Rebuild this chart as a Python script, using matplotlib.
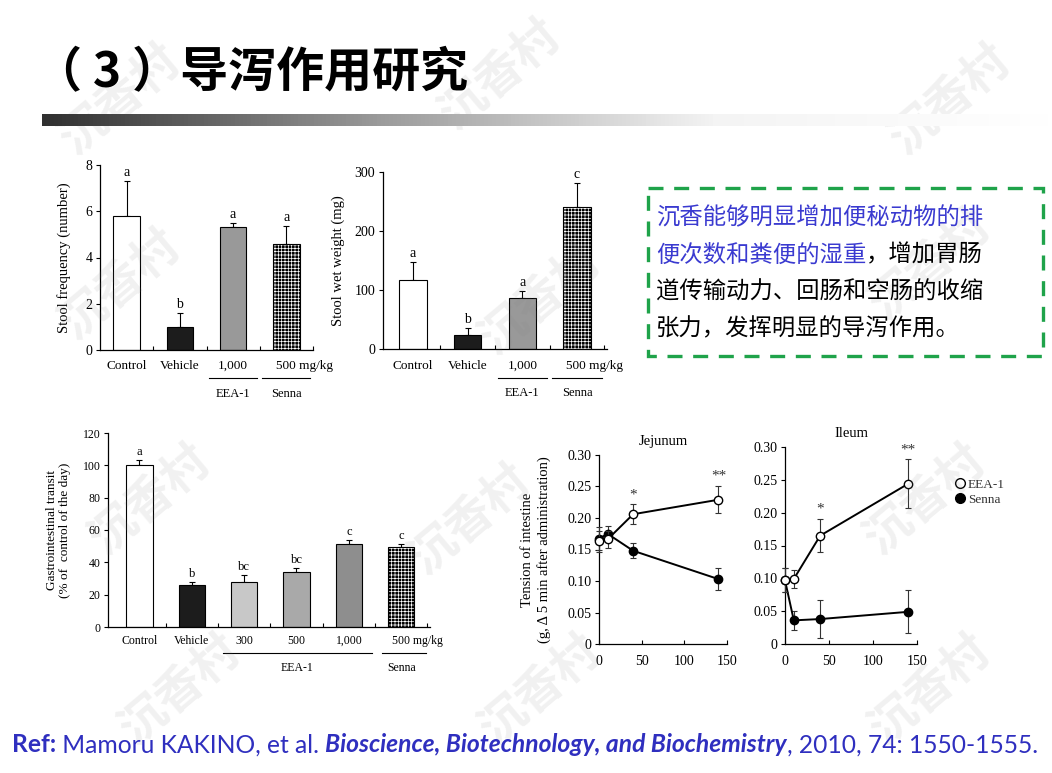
import numpy as np
import matplotlib
matplotlib.use("Agg")
import matplotlib.pyplot as plt
from matplotlib.lines import Line2D
from matplotlib.patches import Rectangle
from matplotlib.colors import LinearSegmentedColormap

W, H = 1052, 773
SERIF = "Liberation Serif"
CJK = ["Noto Sans CJK SC", "DejaVu Sans"]

# stool frequency / wet weight (top charts)
top_labels = ["Control", "Vehicle", "1,000", "500"]
freq_values = [5.8, 1.0, 5.3, 4.6]
freq_err = [1.5, 0.6, 0.2, 0.75]
freq_letters = ["a", "b", "a", "a"]
weight_values = [117, 23, 86, 241]
weight_err = [31, 13, 13, 40]
weight_letters = ["a", "b", "a", "c"]

# gastrointestinal transit (bottom left)
transit_labels = ["Control", "Vehicle", "300", "500", "1,000", "500"]
transit_values = [100, 26, 28, 34, 51.5, 49.5]
transit_err = [3, 2, 4, 2.5, 2.5, 2]
transit_letters = ["a", "b", "bc", "bc", "c", "c"]

# intestine tension (bottom right)
time_min = [0, 10, 40, 140]
jej_eea = [0.163, 0.166, 0.206, 0.229]
jej_eea_err = [0.017, 0.014, 0.016, 0.021]
jej_senna = [0.167, 0.175, 0.148, 0.103]
jej_senna_err = [0.018, 0.013, 0.012, 0.018]
ile_eea = [0.097, 0.099, 0.165, 0.244]
ile_eea_err = [0.018, 0.014, 0.025, 0.037]
ile_senna = [0.097, 0.036, 0.038, 0.049]
ile_senna_err = [0.018, 0.015, 0.029, 0.033]

plt.rcParams["hatch.linewidth"] = 0.5

fig = plt.figure(figsize=(W / 100, H / 100), dpi=100)
fig.patch.set_facecolor("white")


def px_axes(x0, y0, x1, y1, **kw):
    return fig.add_axes([x0 / W, 1 - y1 / H, (x1 - x0) / W, (y1 - y0) / H], **kw)


def style_axes(ax, fs):
    ax.set_facecolor("none")
    for s in ["top", "right"]:
        ax.spines[s].set_visible(False)
    for s in ["left", "bottom"]:
        ax.spines[s].set_linewidth(0.9)
    ax.tick_params(labelsize=fs, width=0.8, length=3, pad=2.5)
    for lab in ax.get_yticklabels() + ax.get_xticklabels():
        lab.set_family(SERIF)


def bar_panel(ax, values, err, letters, colors, fs):
    x = np.arange(len(values))
    for i, (v, c) in enumerate(zip(values, colors)):
        if c == "grid":
            ax.bar(i, v, width=0.5, color="black", edgecolor="white",
                   hatch="+++++", linewidth=0, zorder=2)
            ax.bar(i, v, width=0.5, fill=False, edgecolor="black",
                   linewidth=0.8, zorder=3)
        else:
            ax.bar(i, v, width=0.5, color=c, edgecolor="black",
                   linewidth=0.8, zorder=2)
    ax.errorbar(x, values, yerr=[[0] * len(err), err], fmt="none",
                ecolor="black", elinewidth=0.8, capsize=2.5, capthick=0.8, zorder=1)
    for i, (v, e, l) in enumerate(zip(values, err, letters)):
        ax.annotate(l, (i, v + e), xytext=(0, 1.5), textcoords="offset points",
                    ha="center", va="bottom", family=SERIF, fontsize=fs + 0.5)
    ax.set_xticks(x + 0.5)
    ax.set_xticklabels([])
    ax.tick_params(axis="x", length=3, direction="in")


# ---------- top-left: stool frequency
ax1 = px_axes(100, 165, 313, 350)
bar_panel(ax1, freq_values, freq_err, freq_letters,
          ["white", "#1c1c1c", "#999999", "grid"], 9.5)
ax1.set_xlim(-0.5, 3.5)
ax1.set_ylim(0, 8)
ax1.set_yticks([0, 2, 4, 6, 8])
style_axes(ax1, 10)
ax1.set_ylabel("Stool frequency (number)", family=SERIF, fontsize=10.5, labelpad=10)

# ---------- top-middle: stool wet weight
ax2 = px_axes(383, 172, 607, 349)
bar_panel(ax2, weight_values, weight_err, weight_letters,
          ["white", "#1c1c1c", "#999999", "grid"], 9.5)
ax2.set_xlim(-0.55, 3.55)
ax2.set_ylim(0, 300)
ax2.set_yticks([0, 100, 200, 300])
style_axes(ax2, 10)
ax2.set_ylabel("Stool wet weight (mg)", family=SERIF, fontsize=10.5, labelpad=7)

for ax, lab_y, line_y, grp_y in [(ax1, -0.086, -0.151, -0.24), (ax2, -0.096, -0.164, -0.25)]:
    tr = ax.get_xaxis_transform()
    for i, s in enumerate(top_labels[:3]):
        ax.text(i, lab_y, s, transform=tr, ha="center", va="center",
                family=SERIF, fontsize=9.5)
    ax.text(3 - 0.2, lab_y, "500 mg/kg", transform=tr, ha="left", va="center",
            family=SERIF, fontsize=9.5)
    for i, g in [(2, "EEA-1"), (3, "Senna")]:
        ax.plot([i - 0.45, i + 0.45], [line_y, line_y], transform=tr,
                color="black", lw=0.8, clip_on=False)
        ax.text(i, grp_y, g, transform=tr, ha="center", va="center",
                family=SERIF, fontsize=9)

# ---------- bottom-left: gastrointestinal transit
ax3 = px_axes(108, 433, 430, 627)
bar_panel(ax3, transit_values, transit_err, transit_letters,
          ["white", "#1c1c1c", "#c8c8c8", "#a9a9a9", "#8e8e8e", "grid"], 8.5)
ax3.set_xlim(-0.6, 5.55)
ax3.set_ylim(0, 120)
ax3.set_yticks(range(0, 121, 20))
style_axes(ax3, 8.5)
ax3.set_ylabel("Gastrointestinal transit\n(% of  control of the day)",
               family=SERIF, fontsize=9.5, labelpad=8)
tr3 = ax3.get_xaxis_transform()
for i, s in enumerate(transit_labels[:5]):
    ax3.text(i, -0.072, s, transform=tr3, ha="center", va="center",
             family=SERIF, fontsize=8.5)
ax3.text(5 - 0.17, -0.072, "500 mg/kg", transform=tr3, ha="left", va="center",
         family=SERIF, fontsize=8.5)
ax3.plot([1.59, 4.45], [-0.134, -0.134], transform=tr3, color="black", lw=0.8, clip_on=False)
ax3.plot([4.64, 5.48], [-0.134, -0.134], transform=tr3, color="black", lw=0.8, clip_on=False)
ax3.text(3, -0.21, "EEA-1", transform=tr3, ha="center", va="center", family=SERIF, fontsize=8.5)
ax3.text(5, -0.21, "Senna", transform=tr3, ha="center", va="center", family=SERIF, fontsize=8.5)


# ---------- bottom-right: tension line charts
def line_panel(ax, eea, eea_err, senna, senna_err, title, stars):
    ax.errorbar(time_min, senna, yerr=senna_err, color="black", lw=1.4,
                marker="o", ms=6, mfc="black", mec="black", ecolor="#333333",
                elinewidth=0.8, capsize=2.5, capthick=0.8, clip_on=False, zorder=3)
    ax.errorbar(time_min, eea, yerr=eea_err, color="black", lw=1.4,
                marker="o", ms=6, mfc="white", mec="black", ecolor="#333333",
                elinewidth=0.8, capsize=2.5, capthick=0.8, clip_on=False, zorder=4)
    for xs, ys, s in stars:
        ax.text(xs, ys, s, ha="center", va="center", family=SERIF, fontsize=11,
                color="#333333")
    ax.set_xlim(0, 150)
    ax.set_ylim(0, 0.30)
    ax.set_xticks([0, 50, 100, 150])
    ax.set_yticks([0, 0.05, 0.10, 0.15, 0.20, 0.25, 0.30])
    ax.set_yticklabels(["0", "0.05", "0.10", "0.15", "0.20", "0.25", "0.30"])
    style_axes(ax, 10)
    ax.tick_params(axis="x", direction="in", pad=8)
    ax.set_title(title, family=SERIF, fontsize=10.5, pad=7)


ax4 = px_axes(599, 455, 727, 644)
line_panel(ax4, jej_eea, jej_eea_err, jej_senna, jej_senna_err, "Jejunum",
           [(40, 0.236, "*"), (140, 0.266, "**")])
ax4.set_ylabel("Tension of intestine\n(g, \u0394 5 min after administration)",
               family=SERIF, fontsize=10.5, labelpad=12)

ax5 = px_axes(785, 447, 917, 644)
line_panel(ax5, ile_eea, ile_eea_err, ile_senna, ile_senna_err, "Ileum",
           [(40, 0.205, "*"), (140, 0.296, "**")])

handles = [
    Line2D([], [], ls="none", marker="o", ms=7, mfc="white", mec="black", label="EEA-1"),
    Line2D([], [], ls="none", marker="o", ms=7, mfc="black", mec="black", label="Senna"),
]
fig.legend(handles=handles, loc="upper left", bbox_to_anchor=(944 / W, 1 - 467 / H),
           frameon=False, handlelength=0.6, handletextpad=0.3, labelspacing=0.2,
           prop={"family": SERIF, "size": 9.5}, labelcolor="#333333")

# ---------- slide decorations
bg = fig.add_axes([0, 0, 1, 1], facecolor="none", zorder=10)
bg.set_xlim(0, W)
bg.set_ylim(H, 0)
bg.axis("off")

bg.text(34, 73, "（ 3 ）导泻作用研究", family=CJK, fontsize=34.6, fontweight="bold",
        ha="left", va="center", color="black")

grad = LinearSegmentedColormap.from_list("bar", ["#303030", "#9a9a9a", "#f4f4f4", "#ffffff"])
bg.imshow(np.linspace(0, 1, 256)[None, :], cmap=grad, aspect="auto",
          extent=[42, 1052, 126, 114], zorder=1)

bg.add_patch(Rectangle((648, 188), 395, 168, fill=False, edgecolor="#1fa34a",
                       lw=2.4, linestyle=(0, (4.5, 3.2))))
cw = 16.8 * 100 / 72
blue = "#3a3ad0"
lines = [
    [("沉香能够明显增加便秘动物的排", blue)],
    [("便次数和粪便的湿重", blue), ("，增加胃肠", "black")],
    [("道传输动力、回肠和空肠的收缩", "black")],
    [("张力，发挥明显的导泻作用。", "black")],
]
for yy, parts in zip([218, 255, 292, 329], lines):
    xx = 656
    for s, c in parts:
        bg.text(xx, yy, s, family=CJK, fontsize=16.8, color=c, ha="left",
                va="center", fontweight="medium")
        xx += cw * len(s)

# reference line, pieces laid out from measured widths
ref_parts = [
    ("Ref:", "bold", "normal"),
    (" Mamoru KAKINO, et al. ", "normal", "normal"),
    ("Bioscience, Biotechnology, and Biochemistry", "bold", "italic"),
    (", 2010, 74: 1550-1555.", "normal", "normal"),
]
renderer = fig.canvas.get_renderer()


def ref_width(size):
    total = 0
    for s, wgt, sty in ref_parts:
        t = fig.text(0, 0, s, family="Lato", fontsize=size, fontweight=wgt, fontstyle=sty)
        total += t.get_window_extent(renderer).width
        t.remove()
    return total


ref_size = 14 * 1030 / ref_width(14)
xx = 12
for s, wgt, sty in ref_parts:
    t = bg.text(xx, 745, s, family="Lato", fontsize=ref_size, fontweight=wgt,
                fontstyle=sty, color="#2f2fbf", ha="left", va="center")
    xx += t.get_window_extent(renderer).width

# watermarks
for wx, wy in [(120, 100), (500, 75), (950, 100), (120, 285), (540, 300), (930, 265),
               (150, 500), (470, 520), (925, 500), (180, 690), (540, 690), (930, 690)]:
    bg.text(wx, wy, "沉香村", family=CJK, fontsize=34, fontweight="bold",
            color="#808080", alpha=0.11, rotation=40, ha="center", va="center", zorder=0)

fig.savefig("out.png", dpi=100)
